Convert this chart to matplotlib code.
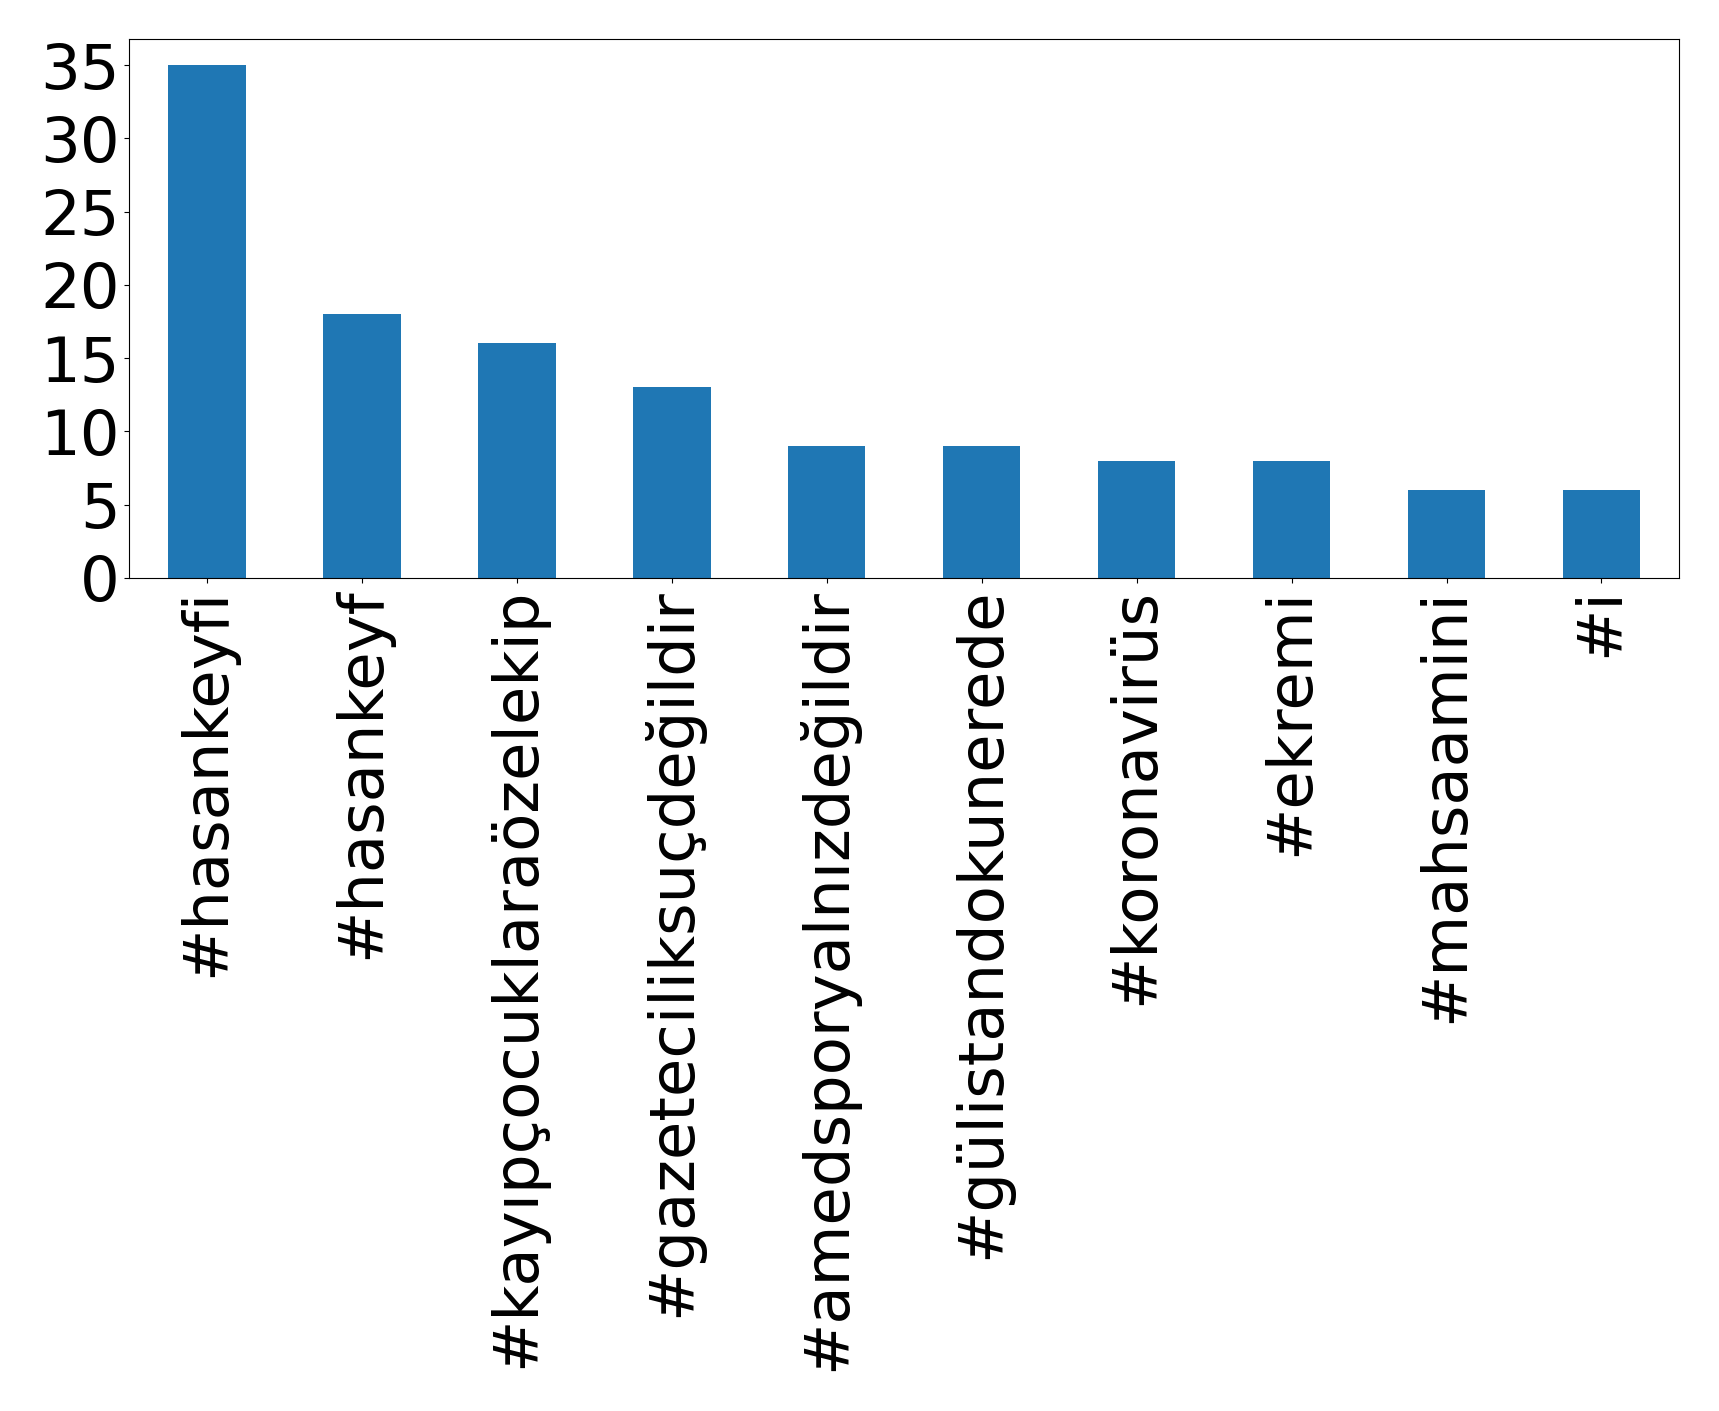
import pandas as pd
import matplotlib
matplotlib.use("Agg")
import matplotlib.pyplot as plt

# hashtag counts
tags = ["#hasankeyfi", "#hasankeyf", "#kayıpçocuklaraözelekip", "#gazetecilikSuçdeğildir".lower(),
        "#amedsporyalnızdeğildir", "#gülistandokunerede", "#koronavirüs", "#ekremi",
        "#mahsaamini", "#i"]
counts = [35, 18, 16, 13, 9, 9, 8, 8, 6, 6]

s = pd.Series(counts, index=tags)

fig = plt.figure(figsize=(17.19, 14.11), dpi=100)
ax = fig.add_axes([0.0753, 0.5904, 0.9767 - 0.0753, 0.9721 - 0.5904])
s.plot.bar(ax=ax, fontsize=45)
ax.set_yticks([0, 5, 10, 15, 20, 25, 30, 35])

fig.savefig("out.png", dpi=100)
